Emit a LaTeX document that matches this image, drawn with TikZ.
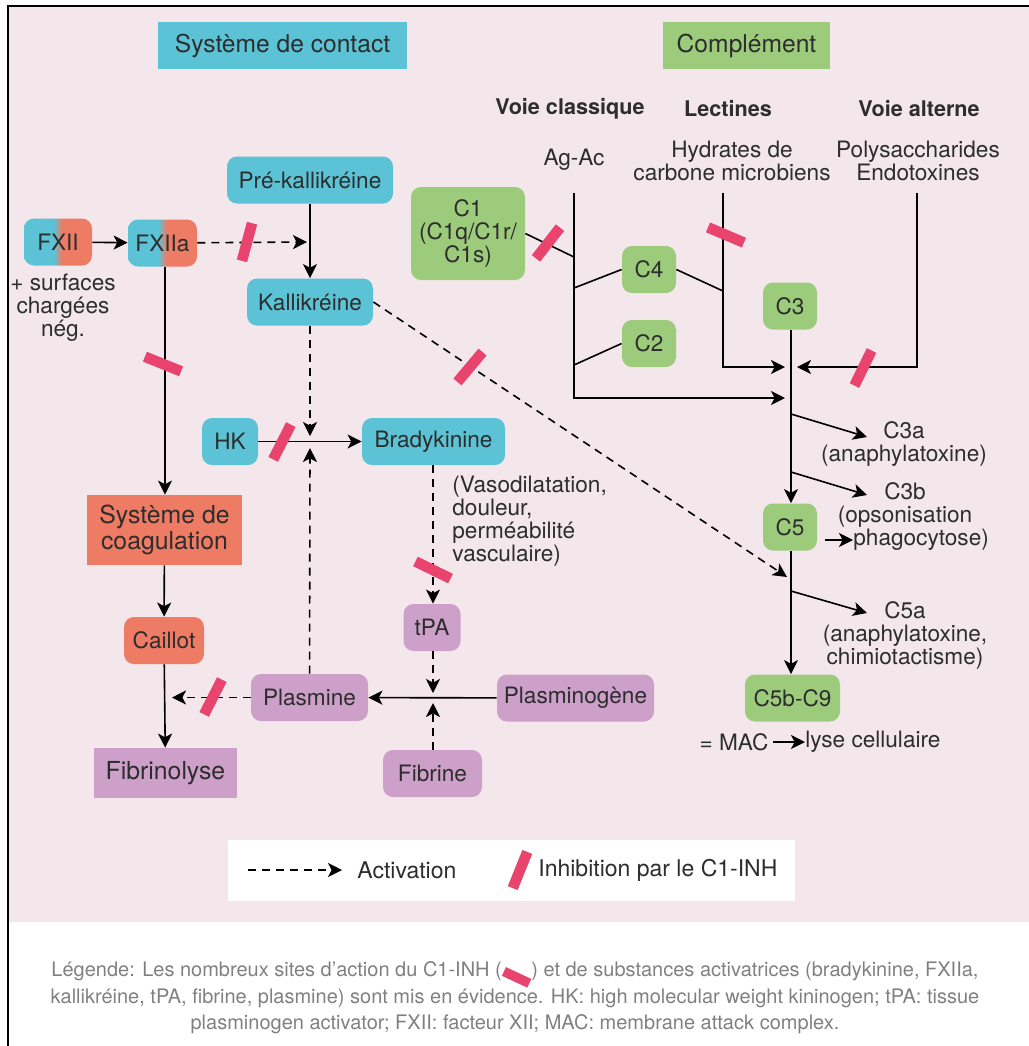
\documentclass[tikz,border=0pt]{standalone}
\usepackage{fontspec}
\setmainfont{TeX Gyre Heros}
\usetikzlibrary{arrows.meta, positioning}

\definecolor{bg_pink}{RGB}{243,231,236}
\definecolor{contact_blue}{RGB}{92,195,214}
\definecolor{compl_green}{RGB}{157,203,124}
\definecolor{coag_red}{RGB}{238,123,100}
\definecolor{fibrin_purple}{RGB}{205,160,202}
\definecolor{inhib_pink}{RGB}{232,68,110}
\definecolor{ink}{RGB}{45,45,45}
\definecolor{caption_gray}{RGB}{128,128,128}

\pgfdeclarehorizontalshading{fxii_shade}{100bp}{color(0bp)=(contact_blue); color(47bp)=(contact_blue); color(53bp)=(coag_red); color(100bp)=(coag_red)}

\newcommand{\inhibmark}{\raisebox{0.5pt}{\rotatebox{-25}{\textcolor{inhib_pink}{\rule{14pt}{4.8pt}}}}}

\tikzstyle{base_box} = [inner sep=0pt, minimum height=23.5pt, text=ink, align=center, font=\fontsize{11.3}{11.5}\selectfont]
\tikzstyle{title_box} = [base_box, rectangle, font=\fontsize{12.3}{12}\selectfont]
\tikzstyle{contact_node} = [base_box, rectangle, rounded corners=5pt, fill=contact_blue]
\tikzstyle{grad_node} = [base_box, rectangle, rounded corners=5pt, shading=fxii_shade]
\tikzstyle{compl_node} = [base_box, rectangle, rounded corners=5pt, fill=compl_green]
\tikzstyle{coag_node} = [base_box, rectangle, rounded corners=5pt, fill=coag_red]
\tikzstyle{fibrin_node} = [base_box, rectangle, rounded corners=5pt, fill=fibrin_purple]
\tikzstyle{path_label} = [inner sep=0pt, text=ink, align=center, font=\fontsize{11.3}{11.5}\selectfont]
\tikzstyle{path_head} = [path_label, font=\fontsize{10.8}{11}\selectfont\bfseries]
\tikzstyle{flow_arrow} = [line width=0.8pt, draw=black, -{Stealth[length=7pt, width=7pt, inset=1.8pt]}]
\tikzstyle{act_arrow} = [flow_arrow, dash pattern=on 4pt off 3pt]
\tikzstyle{plain_line} = [line width=0.8pt, draw=black]
\tikzstyle{inhib_bar} = [rectangle, fill=inhib_pink, inner sep=0pt, minimum width=19.5pt, minimum height=5.3pt]
\tikzstyle{caption_text} = [inner sep=0pt, align=center, text=caption_gray, font=\fontsize{10}{13.25}\selectfont]

\begin{document}
\begin{tikzpicture}[x=0.5pt, y=-0.5pt]
\useasboundingbox (0,0) rectangle (1029,1046);
% fond et cadre
\fill[bg_pink] (8,6) rectangle (1029,922);
\draw[line width=1.4pt] (1029,6) -- (8,6) -- (8,1046);

% titres
\node (contact_title) [title_box, fill=contact_blue, minimum width=124.5pt] at (282.5,45.5) {Système de contact};
\node (compl_title) [title_box, fill=compl_green, minimum width=83.5pt] at (746.5,45.5) {Complément};

% système de contact
\node (fxii) [grad_node, minimum width=34pt] at (58,242) {FXII};
\node (fxiia) [grad_node, minimum width=34.5pt] at (162.5,243) {FXIIa};
\node (surfaces) [path_label] at (63,308) {+ surfaces\\chargées\\nég.};
\node (prekal) [contact_node, minimum width=83pt] at (310,180) {Pré-kallikréine};
\node (kal) [contact_node, minimum width=63pt] at (310,302) {Kallikréine};
\node (hk) [contact_node, minimum width=28pt] at (230,441.5) {HK};
\node (brady) [contact_node, minimum width=71.5pt] at (433.5,441.5) {Bradykinine};
\node (vaso) [path_label, anchor=west, align=left] at (452,521) {(Vasodilatation,\\douleur,\\perméabilité\\vasculaire)};

% coagulation et fibrinolyse
\node (coag) [coag_node, sharp corners, minimum width=77.5pt, minimum height=35pt, font=\fontsize{12.4}{11.5}\selectfont] at (164.5,530) {Système de\\coagulation};
\node (caillot) [coag_node, minimum width=40pt] at (164,640.5) {Caillot};
\node (fibrinolyse) [fibrin_node, sharp corners, minimum width=71.5pt, minimum height=25pt, font=\fontsize{12.4}{12}\selectfont] at (165.5,773) {Fibrinolyse};
\node (tpa) [fibrin_node, minimum width=28.5pt] at (432,627.5) {tPA};
\node (plasmine) [fibrin_node, minimum width=58.5pt] at (309.5,697.5) {Plasmine};
\node (plasminogene) [fibrin_node, minimum width=78.5pt] at (575.5,698) {Plasminogène};
\node (fibrine) [fibrin_node, minimum width=49.5pt] at (432.5,773.5) {Fibrine};

% complément
\node (voie_class) [path_head] at (570,109) {Voie classique};
\node (lectines) [path_head] at (728,109) {Lectines};
\node (voie_alt) [path_head] at (919,109) {Voie alterne};
\node (agac) [path_label] at (574,160) {Ag-Ac};
\node (hydrates) [path_label] at (732,161) {Hydrates de\\carbone microbiens};
\node (polysacch) [path_label] at (918,161) {Polysaccharides\\Endotoxines};
\node (c1) [compl_node, minimum width=57pt, minimum height=46.5pt] at (468,233.5) {C1\\(C1q/C1r/\\C1s)};
\node (c4) [compl_node, minimum width=27pt] at (649,269.5) {C4};
\node (c2) [compl_node, minimum width=27pt] at (649,343.5) {C2};
\node (c3) [compl_node, minimum width=27pt] at (790,306) {C3};
\node (c5) [compl_node, minimum width=27pt] at (790,527) {C5};
\node (c5b) [compl_node, minimum width=47.5pt] at (792.5,698) {C5b-C9};
\node (c3a) [path_label] at (904,444) {C3a\\(anaphylatoxine)};
\node (c3b) [path_label] at (905,505.5) {C3b\\(opsonisation};
\node (phago) [path_label, anchor=west] at (853,540) {phagocytose)};
\node (c5a) [path_label] at (905,635) {C5a\\(anaphylatoxine,\\chimiotactisme)};
\node (mac) [path_label] at (734,742) {= MAC};
\node (lyse) [path_label, anchor=west] at (805,742) {lyse cellulaire};

% points de jonction
\coordinate (kal_join) at (307,242);
\coordinate (hk_top) at (310,436);
\coordinate (hk_bot) at (310,448);
\coordinate (tpa_top) at (433,693);
\coordinate (tpa_bot) at (433,703);
\coordinate (plas_end) at (172,697.5);
\coordinate (kal_end) at (787,577);
\coordinate (agac_top) at (574,193);
\coordinate (agac_bot) at (574,398);
\coordinate (agac_end) at (785,398);
\coordinate (c1_join) at (574,257);
\coordinate (c4_join) at (574,288);
\coordinate (c2_join) at (574,365);
\coordinate (lect_top) at (723,193);
\coordinate (lect_join) at (723,291);
\coordinate (lect_bot) at (723,367);
\coordinate (lect_end) at (785,367);
\coordinate (alt_top) at (917,193);
\coordinate (alt_bot) at (917,367);
\coordinate (alt_end) at (797,367);
\coordinate (c3a_start) at (791,414);
\coordinate (c3b_start) at (791,472);
\coordinate (c5a_start) at (791,591);
\coordinate (phago_start) at (825,540);

% flèches du système de contact
\draw [flow_arrow] (fxii) -- (fxiia);
\draw [act_arrow] (fxiia) -- (kal_join);
\draw [flow_arrow] (prekal) -- (kal);
\draw [flow_arrow] (fxiia.south -| 165,0) -- (coag.north -| 165,0);
\draw [flow_arrow] (coag) -- (caillot);
\draw [flow_arrow] (caillot) -- (fibrinolyse);
\draw [act_arrow] (kal) -- (hk_top);
\draw [act_arrow] (plasmine) -- (hk_bot);
\draw [flow_arrow] (hk) -- (brady);
\draw [act_arrow] (brady.south -| tpa_top) -- (tpa.north -| tpa_top);
\draw [act_arrow] (tpa.south -| tpa_top) -- (tpa_top);
\draw [act_arrow] (fibrine.north -| tpa_top) -- (tpa_bot);
\draw [flow_arrow] (plasminogene) -- (plasmine);
\draw [act_arrow] (plasmine) -- (plas_end);
\draw [act_arrow] (kal.east) -- (kal_end);

% flèches du complément
\draw [flow_arrow] (agac_top) -- (agac_bot) -- (agac_end);
\draw [plain_line] (c1.east) -- (c1_join);
\draw [plain_line] (c4_join) -- (c4.west);
\draw [plain_line] (c2_join) -- (c2.west);
\draw [plain_line] (c4.east) -- (lect_join);
\draw [flow_arrow] (lect_top) -- (lect_bot) -- (lect_end);
\draw [flow_arrow] (alt_top) -- (alt_bot) -- (alt_end);
\draw [flow_arrow] (c3.south -| c3a_start) -- (c5.north -| c3a_start);
\draw [flow_arrow] (c5.south -| c3a_start) -- (c5b.north -| c3a_start);
\draw [flow_arrow] (c3a_start) -- (867,437);
\draw [flow_arrow] (c3b_start) -- (867,495);
\draw [flow_arrow] (c5a_start) -- (867,613);
\draw [flow_arrow] (phago_start) -- (phago.west);
\draw [flow_arrow, shorten <=2pt] (mac) -- (lyse);

% sites d'inhibition par le C1-INH
\node (inh_fxiia) [inhib_bar, rotate=75] at (247,242) {};
\node (inh_coag) [inhib_bar, rotate=-22] at (163,364) {};
\node (inh_kal) [inhib_bar, rotate=50] at (470,367) {};
\node (inh_c1) [inhib_bar, rotate=52] at (548,243) {};
\node (inh_lect) [inhib_bar, rotate=-23] at (726,235) {};
\node (inh_alt) [inhib_bar, rotate=64] at (863,368) {};
\node (inh_hk) [inhib_bar, rotate=63] at (282,442) {};
\node (inh_brady) [inhib_bar, rotate=-26] at (433,570) {};
\node (inh_plas) [inhib_bar, rotate=63] at (213,697) {};

% légende
\node (legend_box) [fill=white, minimum width=283.5pt, minimum height=30.5pt, inner sep=0pt] at (511.5,870.5) {};
\coordinate (leg_start) at (248,870);
\coordinate (leg_end) at (342,870);
\draw [act_arrow] (leg_start) -- (leg_end);
\node (leg_act) [path_label, anchor=west, font=\fontsize{11.5}{12}\selectfont] at (357,870) {Activation};
\node (leg_bar) [inhib_bar, rotate=68] at (520,870) {};
\node (leg_inh) [path_label, anchor=west, font=\fontsize{11.5}{12}\selectfont] at (538,870) {Inhibition par le C1-INH};

% texte sous la figure
\node (caption) [caption_text] at (515,998) {Légende: Les nombreux sites d'action du C1-INH (\inhibmark) et de substances activatrices (bradykinine, FXIIa,\\kallikréine, tPA, fibrine, plasmine) sont mis en évidence. HK: high molecular weight kininogen; tPA: tissue\\plasminogen activator; FXII: facteur XII; MAC: membrane attack complex.};
\end{tikzpicture}
\end{document}
